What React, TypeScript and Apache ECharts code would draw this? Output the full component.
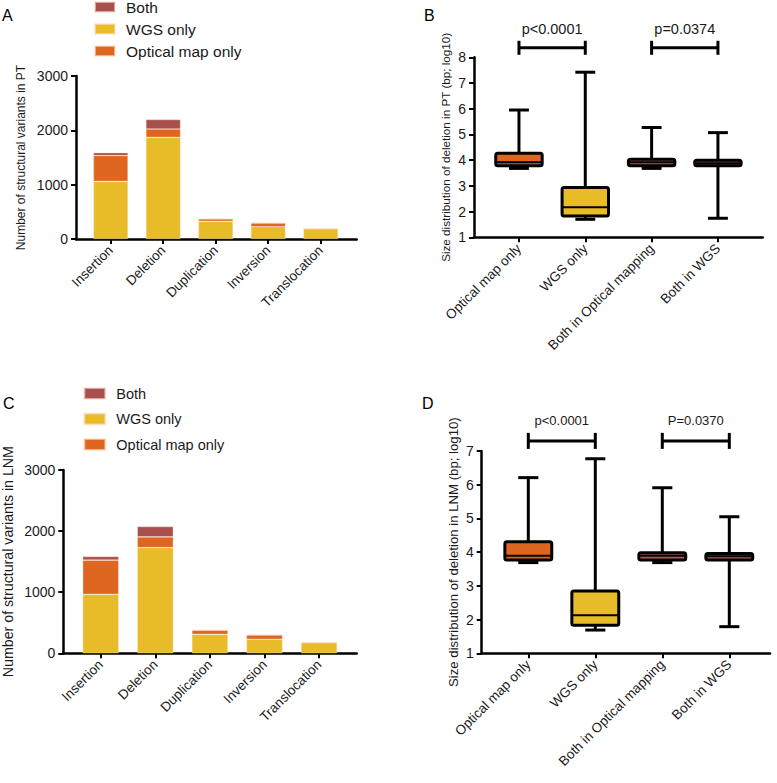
import React, { useEffect, useRef } from "react";
import * as echarts from "echarts";

// ---------- data ----------
const svCategories = ["Insertion", "Deletion", "Duplication", "Inversion", "Translocation"];
const legendNames = ["Both", "WGS only", "Optical map only"];

const ptWgsOnly = [1060, 1870, 325, 226, 190];
const ptOpticalOnly = [475, 155, 45, 68, 0];
const ptBoth = [55, 175, 10, 5, 0];

const lnmWgsOnly = [965, 1730, 310, 230, 175];
const lnmOpticalOnly = [560, 175, 70, 70, 0];
const lnmBoth = [60, 170, 5, 5, 0];

const sizeCategories = ["Optical map only", "WGS only", "Both in Optical mapping", "Both in WGS"];
// [lower whisker, q1, median, q3, upper whisker]
const ptOpticalBox = [3.68, 3.78, 3.92, 4.27, 5.95];
const ptWgsBox = [1.7, 1.83, 2.17, 2.94, 7.42];
const ptBothOpticalBox = [3.68, 3.78, 3.92, 4.04, 5.27];
const ptBothWgsBox = [1.74, 3.78, 3.88, 4.0, 5.07];

const lnmOpticalBox = [3.69, 3.77, 3.89, 4.31, 6.21];
const lnmWgsBox = [1.69, 1.83, 2.13, 2.85, 6.77];
const lnmBothOpticalBox = [3.69, 3.77, 3.89, 3.98, 5.91];
const lnmBothWgsBox = [1.79, 3.77, 3.88, 3.96, 5.05];

const ptPairs = [[0, 1], [2, 3]];
const ptPLabels = ["p<0.0001", "p=0.0374"];
const ptBracketY = 8.37;
const ptLabelY = 9.09;

const lnmPairs = [[0, 1], [2, 3]];
const lnmPLabels = ["p<0.0001", "P=0.0370"];
const lnmBracketY = 7.3;
const lnmLabelY = 7.9;

// ---------- style ----------
const FONT = "'Liberation Sans', Arial, Helvetica, sans-serif";
const C_BOTH = "#A9504F";
const C_WGS = "#E8BB28";
const C_OPT = "#DE6620";
const TXT = "#1a1a1a";
const boxFills = [C_OPT, C_WGS, "#B0585A", "#B0585A"];

function outerX(gridIndex: number) {
  return {
    type: "value", gridIndex, min: 0, max: 1,
    axisLine: { show: true, onZero: false, lineStyle: { color: "#000", width: 2.5 } },
    axisTick: { show: false }, axisLabel: { show: false }, splitLine: { show: false },
  };
}
function innerX(gridIndex: number, data: string[], fontSize: number) {
  return {
    type: "category", gridIndex, data,
    axisLine: { show: false },
    axisTick: { show: true, alignWithLabel: true, length: 5, lineStyle: { color: "#000", width: 2 } },
    axisLabel: { rotate: 45, interval: 0, fontSize, color: TXT, margin: 9, fontFamily: FONT },
    splitLine: { show: false },
  };
}
function outerY(gridIndex: number, min: number, max: number, interval: number, name: string, nameGap: number, nameSize: number) {
  return {
    type: "value", gridIndex, min, max, interval,
    axisLine: { show: true, onZero: false, lineStyle: { color: "#000", width: 2.5 } },
    axisTick: { show: true, length: 5, lineStyle: { color: "#000", width: 2 } },
    axisLabel: { fontSize: 14, color: TXT, margin: 8, fontFamily: FONT, formatter: (v: number) => String(v) },
    splitLine: { show: false },
    name, nameLocation: "middle", nameGap,
    nameTextStyle: { fontSize: nameSize, color: TXT, fontFamily: FONT },
  };
}
function innerY(gridIndex: number, min: number, max: number) {
  return { type: "value", gridIndex, min, max, show: false };
}

function barSeries(axisIndex: number, stack: string, wgs: number[], opt: number[], both: number[]) {
  const common = {
    type: "bar", stack, xAxisIndex: axisIndex, yAxisIndex: axisIndex, barWidth: "66%",
  };
  const border = { borderColor: "rgba(255,225,205,0.6)", borderWidth: 0.6 };
  return [
    { ...common, name: "WGS only", data: wgs, itemStyle: { color: C_WGS, ...border } },
    { ...common, name: "Optical map only", data: opt, itemStyle: { color: C_OPT, ...border } },
    { ...common, name: "Both", data: both, itemStyle: { color: C_BOTH, ...border } },
  ];
}

function boxSeries(axisIndex: number, boxes: number[][]) {
  return {
    type: "custom", xAxisIndex: axisIndex, yAxisIndex: axisIndex,
    data: boxes.map((b, i) => [i, ...b]),
    encode: { x: 0, y: [1, 2, 3, 4, 5] },
    renderItem: (params: any, api: any) => {
      const x = api.value(0);
      const lo = api.coord([x, api.value(1)]);
      const q1 = api.coord([x, api.value(2)]);
      const med = api.coord([x, api.value(3)]);
      const q3 = api.coord([x, api.value(4)]);
      const hi = api.coord([x, api.value(5)]);
      const cx = lo[0];
      const band = api.size([1, 0])[0];
      const bw = band * 0.7;
      const cw = band * 0.3;
      const ls = { stroke: "#000", lineWidth: 3 };
      return {
        type: "group",
        children: [
          { type: "line", shape: { x1: cx, y1: hi[1], x2: cx, y2: q3[1] }, style: ls },
          { type: "line", shape: { x1: cx, y1: lo[1], x2: cx, y2: q1[1] }, style: ls },
          { type: "line", shape: { x1: cx - cw / 2, y1: hi[1], x2: cx + cw / 2, y2: hi[1] }, style: ls },
          { type: "line", shape: { x1: cx - cw / 2, y1: lo[1], x2: cx + cw / 2, y2: lo[1] }, style: ls },
          {
            type: "rect",
            shape: { x: cx - bw / 2, y: q3[1], width: bw, height: q1[1] - q3[1], r: 2 },
            style: { fill: boxFills[params.dataIndex], stroke: "#000", lineWidth: 3 },
          },
          { type: "line", shape: { x1: cx - bw / 2, y1: med[1], x2: cx + bw / 2, y2: med[1] }, style: { stroke: "#000", lineWidth: 2 } },
        ],
      };
    },
  };
}

function bracketSeries(axisIndex: number, pairs: number[][], labels: string[], by: number, ly: number, fontSize: number, halfH: number) {
  return {
    type: "custom", xAxisIndex: axisIndex, yAxisIndex: axisIndex, clip: false, silent: true,
    data: pairs.map((p) => [p[0], p[1], by, ly]),
    encode: { x: [0, 1], y: [2, 3] },
    renderItem: (params: any, api: any) => {
      const a = api.coord([api.value(0), api.value(2)]);
      const b = api.coord([api.value(1), api.value(2)]);
      const t = api.coord([api.value(0), api.value(3)]);
      const ls = { stroke: "#000", lineWidth: 3 };
      return {
        type: "group",
        children: [
          { type: "line", shape: { x1: a[0], y1: a[1], x2: b[0], y2: b[1] }, style: ls },
          { type: "line", shape: { x1: a[0], y1: a[1] - halfH, x2: a[0], y2: a[1] + halfH }, style: ls },
          { type: "line", shape: { x1: b[0], y1: b[1] - halfH, x2: b[0], y2: b[1] + halfH }, style: ls },
          {
            type: "text",
            style: {
              text: labels[params.dataIndex], x: (a[0] + b[0]) / 2, y: t[1],
              align: "center", verticalAlign: "middle", fontSize, fill: TXT, fontFamily: FONT,
            },
          },
        ],
      };
    },
  };
}

function legendCfg(left: number, top: number, iw: number, ih: number, gap: number, fontSize: number) {
  return {
    left, top, padding: 0, orient: "vertical", data: legendNames, icon: "rect",
    itemWidth: iw, itemHeight: ih, itemGap: gap,
    formatter: (name: string) => "{p|}{t|" + name + "}",
    textStyle: {
      fontSize, color: TXT, fontFamily: FONT,
      rich: {
        p: { width: 6, fontSize },
        t: { fontSize, color: TXT, fontFamily: FONT },
      },
    },
  };
}

export default function App() {
  const ref = useRef<HTMLDivElement>(null);
  useEffect(() => {
    if (!ref.current) return;
    const chart = echarts.init(ref.current, undefined, { renderer: "svg" });
    const option: any = {
      animation: false,
      backgroundColor: "#fff",
      textStyle: { fontFamily: FONT },
      grid: [
        { left: 76, top: 76, width: 280.7, height: 163 },
        { left: 84.45, top: 76, width: 262.5, height: 163 },
        { left: 474, top: 57.3, width: 288.7, height: 180 },
        { left: 485.8, top: 57.3, width: 265.3, height: 180 },
        { left: 63.3, top: 470, width: 293.4, height: 183.3 },
        { left: 73.4, top: 470, width: 273, height: 183.3 },
        { left: 481.7, top: 451, width: 288.3, height: 202.3 },
        { left: 494.8, top: 451, width: 268, height: 202.3 },
      ],
      xAxis: [
        outerX(0), innerX(1, svCategories, 13.5),
        outerX(2), innerX(3, sizeCategories, 13.5),
        outerX(4), innerX(5, svCategories, 13.5),
        outerX(6), innerX(7, sizeCategories, 13.5),
      ],
      yAxis: [
        outerY(0, 0, 3000, 1000, "Number of structural variants in PT", 49, 12), innerY(1, 0, 3000),
        outerY(2, 1, 8, 1, "Size distribution of deletion in PT (bp; log10)", 23, 11.7), innerY(3, 1, 8),
        outerY(4, 0, 3000, 1000, "Number of structural variants in LNM", 48, 14.2), innerY(5, 0, 3000),
        outerY(6, 1, 7, 1, "Size distribution of deletion in LNM (bp; log10)", 22, 13.2), innerY(7, 1, 7),
      ],
      legend: [
        legendCfg(94, -1, 20, 10, 6, 15.5),
        legendCfg(83.3, 386, 21, 11, 10.5, 14.5),
      ],
      graphic: [
        { type: "text", left: 2, top: 7, style: { text: "A", fontSize: 16, fill: "#000", fontFamily: FONT } },
        { type: "text", left: 424, top: 7, style: { text: "B", fontSize: 16, fill: "#000", fontFamily: FONT } },
        { type: "text", left: 3, top: 395, style: { text: "C", fontSize: 16, fill: "#000", fontFamily: FONT } },
        { type: "text", left: 422, top: 395, style: { text: "D", fontSize: 16, fill: "#000", fontFamily: FONT } },
      ],
      series: [
        ...barSeries(1, "pt", ptWgsOnly, ptOpticalOnly, ptBoth),
        boxSeries(3, [ptOpticalBox, ptWgsBox, ptBothOpticalBox, ptBothWgsBox]),
        bracketSeries(3, ptPairs, ptPLabels, ptBracketY, ptLabelY, 14.5, 7),
        ...barSeries(5, "lnm", lnmWgsOnly, lnmOpticalOnly, lnmBoth),
        boxSeries(7, [lnmOpticalBox, lnmWgsBox, lnmBothOpticalBox, lnmBothWgsBox]),
        bracketSeries(7, lnmPairs, lnmPLabels, lnmBracketY, lnmLabelY, 13, 8),
      ],
    };
    chart.setOption(option);
    return () => chart.dispose();
  }, []);
  return (
    <div
      ref={ref}
      style={{ position: "fixed", left: 0, top: 0, width: 777, height: 783, background: "#fff" }}
    />
  );
}
